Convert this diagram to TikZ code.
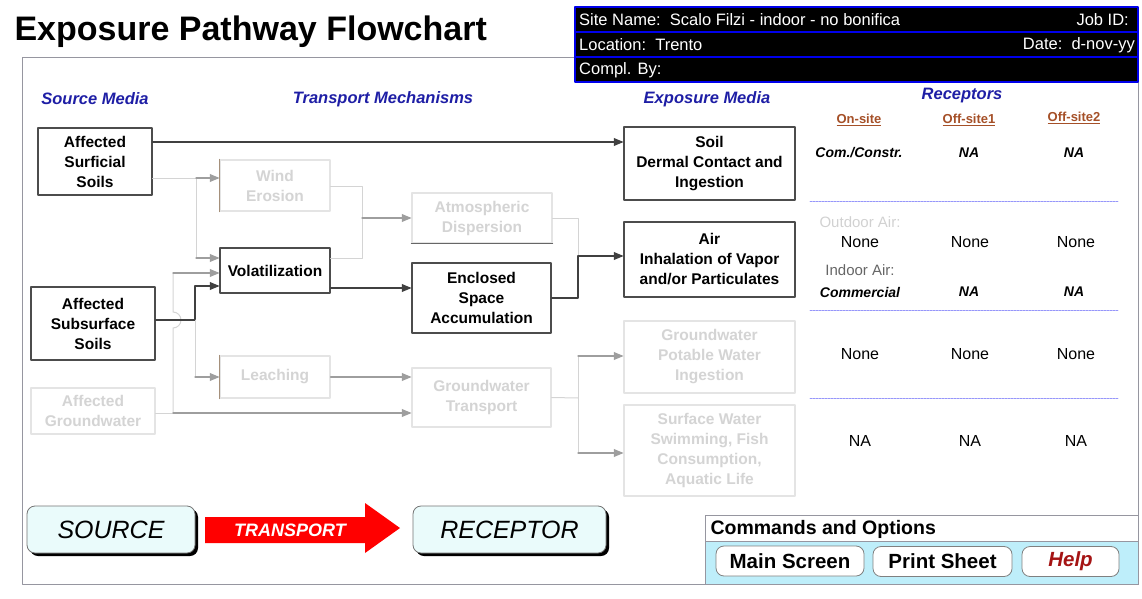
\documentclass[tikz,border=0pt]{standalone}
\usepackage{fontspec}
\setmainfont{Liberation Sans}
\usetikzlibrary{arrows}
\usetikzlibrary{arrows.meta}
\usetikzlibrary{positioning}
\usetikzlibrary{shadows}

\definecolor{hdrblue}{RGB}{30,30,165}
\definecolor{hdrline}{RGB}{0,0,235}
\definecolor{rcpbrown}{RGB}{165,80,40}
\definecolor{fadetxt}{RGB}{212,212,212}
\definecolor{fadeline}{RGB}{228,228,228}
\definecolor{framegray}{RGB}{150,150,160}
\definecolor{pillfill}{RGB}{234,251,251}
\definecolor{cmdblue}{RGB}{190,238,250}
\definecolor{helpred}{RGB}{165,20,20}
\definecolor{sepblue}{RGB}{150,150,250}

\begin{document}
\begin{tikzpicture}[x=1pt,y=-1pt,line cap=round,line join=round,>=triangle 45,
  media/.style={draw=black!70,line width=1.1pt,fill=white,align=center,inner sep=0pt,
    font=\bfseries\fontsize{15.5}{20}\selectfont},
  faded/.style={media,draw=fadeline,text=fadetxt},
  link/.style={draw=black!75,line width=1.2pt},
  mid/.style={draw=black!38,line width=1.2pt},
  weak/.style={draw=black!17,line width=1pt},
  edge/.style={draw=black!45!brown!60,line width=1.2pt},
  heading/.style={text=hdrblue,font=\bfseries\itshape\fontsize{16.5}{20}\selectfont},
  hdrtxt/.style={text=white,font=\fontsize{16.5}{18}\selectfont,inner sep=0pt},
  colhead/.style={text=rcpbrown,font=\bfseries\fontsize{13}{16}\selectfont},
  cell/.style={font=\fontsize{16}{18}\selectfont},
  cellb/.style={font=\bfseries\itshape\fontsize{14}{16}\selectfont},
  sepline/.style={draw=sepblue,line width=0.7pt,dash pattern=on 2pt off 1pt},
  pill/.style={draw=black!55,fill=pillfill,rounded corners=8pt,line width=0.8pt,
    font=\itshape\fontsize{25}{28}\selectfont,
    drop shadow={shadow xshift=3pt,shadow yshift=-3pt,fill=black,opacity=1}},
  button/.style={draw=black!50,fill=white,rounded corners=8pt,line width=0.8pt,
    minimum height=30pt,font=\bfseries\fontsize{20.5}{22}\selectfont}]
\useasboundingbox (0,0) rectangle (1142,599);

% frame and title
\draw[draw=framegray,line width=1pt] (22,58) rectangle (1138,584);
\node[anchor=west,font=\bfseries\fontsize{34}{40}\selectfont] (title) at (11,32) {Exposure Pathway Flowchart};

% site header
\fill[black] (575,7) rectangle (1138,82);
\draw[draw=hdrline,line width=1.8pt] (575,7) rectangle (1138,82);
\draw[draw=hdrline,line width=1.8pt] (575,32) -- (1138,32);
\draw[draw=hdrline,line width=1.8pt] (575,57) -- (1138,57);
\node[hdrtxt,anchor=west] (site) at (579,20) {Site Name:\ \ Scalo Filzi - indoor - no bonifica};
\node[hdrtxt,anchor=east] (jobid) at (1129,20) {Job ID:};
\node[hdrtxt,anchor=west] (loc) at (579,45) {Location:\ \ Trento};
\node[hdrtxt,anchor=east] (date) at (1135,45) {Date:\ \ d-nov-yy};
\node[hdrtxt,anchor=west] (compl) at (579,70) {Compl. By:};

% column headings
\node[heading] (srcmed) at (95,99) {Source Media};
\node[heading] (trmech) at (383,99) {Transport Mechanisms};
\node[heading] (expmed) at (707,99) {Exposure Media};
\node[heading] (recep) at (962,96) {Receptors};

% source media
\node[media,minimum width=114pt,minimum height=67pt] (surf) at (95,161.5) {Affected\\Surficial\\Soils};
\node[media,minimum width=124pt,minimum height=73pt] (sub) at (93,323.5) {Affected\\Subsurface\\Soils};
\node[faded,minimum width=124pt,minimum height=46pt] (gw) at (93,411) {Affected\\Groundwater};

% transport mechanisms
\node[faded,minimum width=110pt,minimum height=51pt] (wind) at (275,185.5) {Wind\\Erosion};
\node[media,minimum width=110pt,minimum height=45pt] (vol) at (275,270.5) {Volatilization};
\node[faded,minimum width=110pt,minimum height=42pt] (leach) at (275,377) {Leaching};
\node[faded,minimum width=140pt,minimum height=50pt] (atm) at (482,218) {Atmospheric\\Dispersion};
\node[media,minimum width=139pt,minimum height=70pt] (enc) at (481.5,298) {Enclosed\\Space\\Accumulation};
\node[faded,minimum width=139pt,minimum height=59pt] (gwt) at (481.5,397.5) {Groundwater\\Transport};
\draw[edge] (wind.north west) -- (wind.south west);
\draw[edge] (leach.north west) -- (leach.south west);
\draw[draw=black!60,line width=1.2pt] (atm.south west) -- (atm.south east);

% exposure media
\node[media,minimum width=171pt,minimum height=73pt] (soil) at (709.5,163.5) {Soil\\Dermal Contact and\\Ingestion};
\node[media,minimum width=171pt,minimum height=75pt] (air) at (709.5,259.5) {Air\\Inhalation of Vapor\\and/or Particulates};
\node[faded,minimum width=171pt,minimum height=72pt] (gwp) at (709.5,357) {Groundwater\\Potable Water\\Ingestion};
\node[faded,minimum width=171pt,minimum height=91pt] (sw) at (709.5,450.5) {Surface Water\\Swimming, Fish\\Consumption,\\Aquatic Life};

% junctions
\coordinate (jsurf) at (196,178);
\coordinate (jsub) at (195,320);
\coordinate (jgw) at (173,413);
\coordinate (jwind) at (362,186);
\coordinate (jatm) at (578,218);
\coordinate (jgwt) at (578,398);

% pathways
\draw[link,->] (surf.east |- 0,142) -- (soil.west |- 0,142);
\draw[weak] (surf.east |- jsurf) -- (jsurf) -- (jsurf |- 0,258);
\draw[mid,->] (jsurf) -- (wind.west |- jsurf);
\draw[mid,->] (jsurf |- 0,258) -- (vol.west |- 0,258);
\draw[weak] (jgw) -- (jgw |- 0,328) arc[start angle=90,end angle=-90,radius=8] -- (jgw |- 0,273);
\draw[mid,->] (jgw |- 0,273) -- (vol.west |- 0,273);
\draw[link,->] (sub.east |- jsub) -- (jsub) -- (jsub |- 0,286) -- (vol.west |- 0,286);
\draw[weak] (jsub) -- (jsub |- 0,377);
\draw[mid,->] (jsub |- 0,377) -- (leach.west);
\draw[weak] (gw.east |- jgw) -- (jgw);
\draw[mid,->] (jgw) -- (gwt.west |- jgw);
\draw[weak] (wind.east |- jwind) -- (jwind) -- (jwind |- 0,258) -- (vol.east |- 0,258);
\draw[mid,->] (jwind |- atm.west) -- (atm.west);
\draw[link,->] (vol.east |- 0,288) -- (enc.west |- 0,288);
\draw[mid,->] (leach.east) -- (gwt.west |- leach.east);
\draw[weak] (atm.east) -- (jatm) -- (jatm |- 0,256);
\draw[link,->] (enc.east) -- (jatm |- enc.east) -- (jatm |- 0,256) -- (air.west |- 0,256);
\draw[weak] (gwt.east) -- (jgwt);
\draw[weak] (jgwt |- 0,356) -- (jgwt |- 0,453);
\draw[mid,->] (jgwt |- 0,356) -- (gwp.west |- 0,356);
\draw[mid,->] (jgwt |- 0,453) -- (sw.west |- 0,453);

% receptors
\node[colhead] (onsite) at (859,120) {\underline{On-site}};
\node[colhead] (offa) at (969,120) {\underline{Off-site1}};
\node[colhead] (offb) at (1074,118) {\underline{Off-site2}};
\node[cellb] (soilon) at (859,153) {Com./Constr.};
\node[cellb] (soila) at (969,153) {NA};
\node[cellb] (soilb) at (1074,153) {NA};
\draw[sepline] (810,201) -- (1118,201);
\node[cell,text=black!18,font=\fontsize{15}{18}\selectfont] (outdoor) at (860,222) {Outdoor Air:};
\node[cell] (airon) at (860,242) {None};
\node[cell] (aira) at (970,242) {None};
\node[cell] (airb) at (1076,242) {None};
\node[cell,text=black!60,font=\fontsize{15}{18}\selectfont] (indoor) at (860,270) {Indoor Air:};
\node[cellb] (indon) at (860,292) {Commercial};
\node[cellb] (inda) at (969,292) {NA};
\node[cellb] (indb) at (1074,292) {NA};
\draw[sepline] (810,310) -- (1118,310);
\node[cell] (gwon) at (860,354) {None};
\node[cell] (gwa) at (970,354) {None};
\node[cell] (gwb) at (1076,354) {None};
\draw[sepline] (810,398) -- (1118,398);
\node[cell] (swon) at (860,441) {NA};
\node[cell] (swa) at (970,441) {NA};
\node[cell] (swb) at (1076,441) {NA};

% source - transport - receptor
\node[pill,minimum width=168pt,minimum height=47pt] (source) at (111,529.5) {SOURCE};
\node[pill,minimum width=193pt,minimum height=47pt] (receptor) at (509.5,529.5) {RECEPTOR};
\fill[red] (205,517) -- (365,517) -- (365,503) -- (400,528) -- (365,553) -- (365,543) -- (205,543) -- cycle;
\node[text=white,font=\bfseries\itshape\fontsize{18}{20}\selectfont] (transport) at (290,530) {TRANSPORT};

% commands
\draw[draw=framegray,fill=white,line width=1pt] (705,515) rectangle (1138,541);
\draw[draw=framegray,fill=cmdblue,line width=1pt] (705,541) rectangle (1138,584);
\node[anchor=west,font=\bfseries\fontsize{19.5}{22}\selectfont] (cmd) at (707,529) {Commands and Options};
\node[button,minimum width=148pt] (mainscr) at (790,561) {Main Screen};
\node[button,minimum width=139pt] (printsh) at (942.5,561.5) {Print Sheet};
\node[button,minimum width=97pt,text=helpred,font=\bfseries\itshape\fontsize{20.5}{22}\selectfont] (help) at (1070.5,561.5) {Help};
\end{tikzpicture}
\end{document}
